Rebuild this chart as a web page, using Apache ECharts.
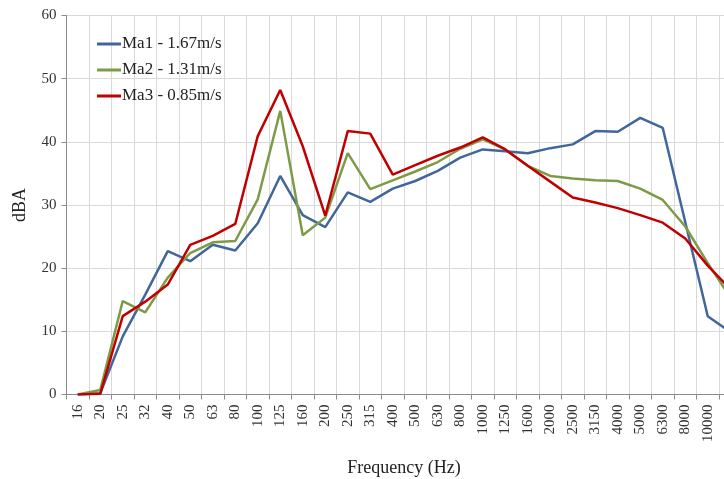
<!DOCTYPE html>
<html>
<head>
<meta charset="utf-8">
<script src="https://cdn.jsdelivr.net/npm/echarts@6/dist/echarts.min.js"></script>
<style>
  html, body { margin: 0; padding: 0; background: #fff; overflow: hidden; }
  /* The plot runs on past the right edge of the frame: the last band is cut off */
  #frame { position: relative; width: 724px; height: 479px; overflow: hidden; }
  #chart { position: absolute; left: 0; top: 0; width: 742px; height: 479px; }
</style>
</head>
<body>
<div id="frame"><div id="chart"></div></div>
<script>
// Third-octave band centre frequencies (Hz)
const frequencies = ['16', '20', '25', '32', '40', '50', '63', '80', '100', '125', '160', '200', '250', '315',
  '400', '500', '630', '800', '1000', '1250', '1600', '2000', '2500', '3150', '4000', '5000', '6300', '8000',
  '10000', '12500'];

// Sound level per band (dBA) for each air speed
const ma1 = [0, 0.2, 9.2, 15.8, 22.7, 21.1, 23.7, 22.8, 27.1, 34.6, 28.4, 26.5, 32.0, 30.5, 32.6, 33.8, 35.4,
  37.5, 38.8, 38.5, 38.2, 39.0, 39.6, 41.7, 41.6, 43.8, 42.2, 27.3, 12.4, 9.9];
const ma2 = [0, 0.7, 14.8, 13.0, 18.5, 22.4, 24.1, 24.3, 30.9, 44.9, 25.2, 28.0, 38.2, 32.5, 33.9, 35.3, 36.8,
  38.9, 40.4, 38.8, 36.2, 34.6, 34.2, 33.9, 33.8, 32.6, 30.8, 26.6, 20.8, 15.4];
const ma3 = [0, 0.1, 12.4, 14.7, 17.4, 23.7, 25.1, 27.0, 40.9, 48.2, 39.3, 28.3, 41.7, 41.3, 34.8, 36.3, 37.8,
  39.1, 40.7, 38.8, 36.2, 33.7, 31.2, 30.4, 29.5, 28.4, 27.2, 24.7, 20.4, 16.7];

const seriesNames = ['Ma1 - 1.67m/s', 'Ma2 - 1.31m/s', 'Ma3 - 0.85m/s'];
const seriesColors = ['#41679A', '#7D9B47', '#C00000'];

const yTicks = { min: 0, max: 60, step: 10 };

const font = '"Liberation Serif", "DejaVu Serif", serif';

const chart = echarts.init(document.getElementById('chart'), null, { renderer: 'canvas' });

function lineSeries(name, data, color) {
  return {
    name: name,
    type: 'line',
    data: data,
    symbol: 'none',
    smooth: false,
    lineStyle: { width: 2.5, color: color },
    itemStyle: { color: color },
    animation: false
  };
}

chart.setOption({
  animation: false,
  grid: {
    left: 66.5, right: 0.5, top: 15.5, bottom: 84.5,
    containLabel: false,
    outerBoundsMode: 'none'
  },
  legend: {
    orient: 'vertical',
    left: 97,
    top: 34,
    padding: 0,
    itemWidth: 24,
    itemHeight: 3,
    itemGap: 6,
    icon: 'rect',
    data: seriesNames,
    textStyle: { fontFamily: font, fontSize: 17, color: '#222', lineHeight: 20, padding: [0, 0, 0, -4] }
  },
  xAxis: {
    type: 'category',
    data: frequencies,
    boundaryGap: true,
    name: 'Frequency (Hz)',
    nameLocation: 'middle',
    nameGap: 65,
    nameTextStyle: { fontFamily: font, fontSize: 18, color: '#222' },
    axisLine: { lineStyle: { color: '#8c8c8c', width: 1 } },
    axisTick: { show: true, length: 5, lineStyle: { color: '#8c8c8c' } },
    axisLabel: { rotate: 90, interval: 0, fontFamily: font, fontSize: 15, color: '#333', margin: 10 },
    splitLine: { show: true, lineStyle: { color: '#d9d9d9', width: 1 } }
  },
  yAxis: {
    type: 'value',
    min: yTicks.min,
    max: yTicks.max,
    interval: yTicks.step,
    name: 'dBA',
    nameLocation: 'middle',
    nameGap: 37,
    nameRotate: 90,
    nameTextStyle: { fontFamily: font, fontSize: 18, color: '#222' },
    axisLine: { show: true, lineStyle: { color: '#8c8c8c', width: 1 } },
    axisTick: { show: true, length: 5, lineStyle: { color: '#8c8c8c' } },
    axisLabel: { fontFamily: font, fontSize: 15, color: '#333', margin: 10 },
    splitLine: { show: true, lineStyle: { color: '#d9d9d9', width: 1 } }
  },
  series: [
    lineSeries(seriesNames[0], ma1, seriesColors[0]),
    lineSeries(seriesNames[1], ma2, seriesColors[1]),
    lineSeries(seriesNames[2], ma3, seriesColors[2])
  ]
});
</script>
</body>
</html>
